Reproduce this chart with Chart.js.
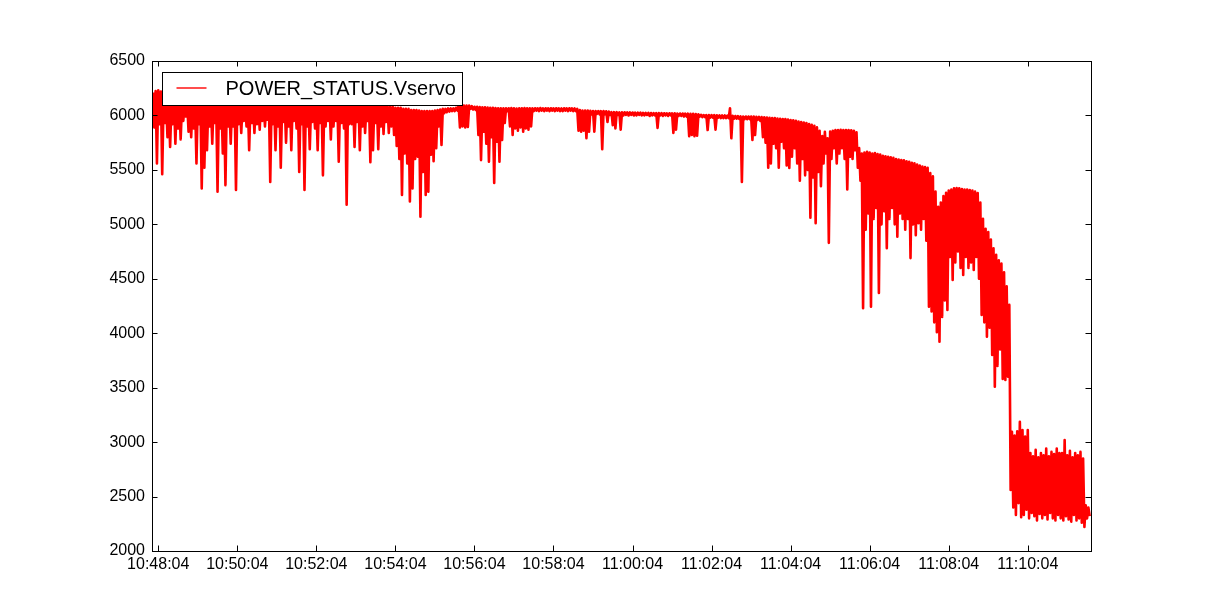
<!DOCTYPE html>
<html>
<head>
<meta charset="utf-8">
<script src="https://cdn.jsdelivr.net/npm/chart.js@4.4.1/dist/chart.umd.min.js"></script>
<style>
  html, body { margin: 0; padding: 0; background: #fff; }
  #wrap { width: 1212px; height: 612px; position: relative; }
</style>
</head>
<body>
<div id="wrap"><canvas id="vservoChart"></canvas></div>
<script>
const seriesLabel = 'POWER_STATUS.Vservo';
const sampleStart = '10:47:56';
const sampleStep = 4; // seconds per bin, each bin has a high and a low reading
const axisRange = ['10:47:54.5', '11:11:40'];
const xTickLabels = ['10:48:04', '10:50:04', '10:52:04', '10:54:04', '10:56:04', '10:58:04',
    '11:00:04', '11:02:04', '11:04:04', '11:06:04', '11:08:04', '11:10:04'];
const yTickValues = [2000, 2500, 3000, 3500, 4000, 4500, 5000, 5500, 6000, 6500];

// upper envelope per bin
const vservoHigh = [
    6210, 6225, 6230, 6220, 6100, 6110, 6100, 6090, 6110, 6100, 6100, 6090, 6110, 6100, 6100,
    6100, 6090, 6100, 6110, 6100, 6090, 6100, 6100, 6110, 6100, 6090, 6100, 6100, 6100, 6090,
    6100, 6110, 6100, 6090, 6100, 6100, 6110, 6100, 6090, 6100, 6100, 6110, 6100, 6090, 6100,
    6100, 6100, 6110, 6100, 6090, 6100, 6100, 6110, 6100, 6090, 6100, 6100, 6110, 6100, 6100,
    6090, 6100, 6100, 6110, 6100, 6090, 6100, 6100, 6110, 6100, 6090, 6100, 6100, 6110, 6100,
    6100, 6090, 6100, 6110, 6100, 6100, 6090, 6100, 6110, 6100, 6100, 6090, 6100, 6090, 6085,
    6080, 6080, 6070, 6070, 6070, 6060, 6060, 6060, 6050, 6050, 6050, 6045, 6040, 6040, 6040,
    6040, 6040, 6045, 6050, 6055, 6060, 6060, 6065, 6065, 6065, 6070, 6090, 6090, 6090, 6090,
    6090, 6085, 6080, 6080, 6078, 6075, 6075, 6072, 6070, 6070, 6068, 6066, 6066, 6066, 6066,
    6066, 6068, 6066, 6064, 6066, 6066, 6068, 6066, 6066, 6066, 6066, 6066, 6068, 6066, 6066,
    6066, 6066, 6066, 6066, 6066, 6064, 6066, 6066, 6066, 6066, 6064, 6060, 6050, 6045, 6045,
    6045, 6042, 6041, 6041, 6040, 6040, 6040, 6038, 6035, 6030, 6030, 6030, 6029, 6029, 6029,
    6029, 6028, 6027, 6026, 6025, 6025, 6024, 6023, 6023, 6022, 6022, 6022, 6021, 6021, 6020,
    6020, 6020, 6020, 6019, 6018, 6018, 6018, 6017, 6016, 6015, 6015, 6012, 6010, 6006, 6004,
    6004, 6004, 6003, 6002, 6002, 6000, 6000, 6000, 5998, 6066, 5996, 5995, 5993, 5992, 5990,
    5990, 5990, 5990, 5990, 5988, 5986, 5985, 5982, 5980, 5978, 5976, 5975, 5972, 5970, 5968,
    5966, 5962, 5958, 5955, 5950, 5945, 5940, 5935, 5930, 5922, 5915, 5905, 5890, 5860, 5810,
    5850, 5790, 5852, 5860, 5866, 5866, 5868, 5866, 5865, 5866, 5864, 5860, 5845, 5700, 5650,
    5660, 5667, 5660, 5650, 5655, 5645, 5640, 5630, 5625, 5620, 5615, 5610, 5600, 5595, 5591,
    5588, 5580, 5575, 5565, 5560, 5550, 5540, 5530, 5525, 5520, 5470, 5440, 5300, 5162, 5200,
    5260, 5290, 5310, 5320, 5330, 5333, 5330, 5325, 5320, 5320, 5315, 5310, 5300, 5288, 5200,
    5050, 4960, 4930, 4860, 4780, 4720, 4670, 4640, 4560, 4430, 4260, 3095, 3060, 3100, 3187,
    3110, 3050, 3111, 2900, 2870, 2930, 2860, 2900, 2880, 2940, 2870, 2910, 2890, 2940, 2900,
    2900, 3020, 2880, 2920, 2860, 2900, 2880, 2910, 2850, 2420, 2400
];

// lower envelope per bin (dips and spikes)
const vservoLow = [
    5890, 5560, 5920, 5460, 5930, 5800, 5710, 5920, 5740, 5880, 5780, 5950, 5990, 5850, 5800,
    5880, 5560, 5920, 5330, 5520, 5680, 5900, 5740, 5930, 5300, 5880, 5650, 5360, 5900, 5740,
    5900, 5315, 5920, 5840, 5950, 5900, 5680, 5930, 5840, 5920, 5870, 5950, 5900, 5960, 5390,
    5920, 5680, 5900, 5520, 5940, 5750, 5900, 5680, 5950, 5880, 5480, 5920, 5315, 5900, 5690,
    5940, 5880, 5680, 5930, 5450, 5900, 5950, 5780, 5900, 5950, 5575, 5930, 5880, 5180, 5920,
    5920, 5710, 5940, 5680, 5900, 5840, 5950, 5570, 5680, 5930, 5690, 5900, 5830, 5940, 5840,
    5900, 5820, 5720, 5600, 5270, 5650, 5560, 5210, 5330, 5600, 5620, 5070, 5480, 5270, 5300,
    5640, 5580, 5700, 5900, 5730, 6020, 6030, 6035, 6040, 6040, 6045, 5890, 5900, 5890, 5895,
    6060, 6055, 6050, 5820, 5590, 5850, 5740, 5575, 5800, 5380, 5760, 5575, 5775, 5930, 6040,
    5900, 5820, 5880, 5860, 5890, 5850, 5880, 5870, 5900, 6040, 6045, 6040, 6045, 6040, 6045,
    6040, 6045, 6040, 6045, 6040, 6040, 6045, 6040, 6045, 6040, 6040, 5860, 5850, 5860, 5790,
    5850, 6010, 5850, 6015, 6010, 5690, 6010, 5940, 6005, 5910, 5880, 6005, 5870, 6000, 6005,
    6000, 6005, 6000, 6000, 6005, 6000, 6000, 6005, 5995, 6000, 6000, 5885, 6000, 5995, 6000,
    5995, 6000, 5840, 5870, 5995, 5995, 5990, 5990, 5810, 5820, 5810, 5815, 5990, 5985, 5985,
    5866, 5980, 5980, 5870, 5980, 5975, 5975, 5975, 5975, 5790, 5970, 5970, 5968, 5390, 5965,
    5965, 5965, 5775, 5820, 5960, 5950, 5800, 5750, 5520, 5560, 5740, 5700, 5520, 5760, 5700,
    5540, 5517, 5620, 5700, 5560, 5400, 5600, 5450, 5500, 5060, 5430, 5010, 5480, 5350, 5560,
    5650, 4830, 5600, 5700, 5560, 5650, 5700, 5600, 5320, 5620, 5600, 5680, 5520, 5400, 4230,
    4950, 5100, 4244, 5050, 5150, 4370, 5000, 5120, 4780, 5050, 5150, 5000, 4886, 5100, 5050,
    4950, 5050, 4690, 5000, 4900, 5010, 4950, 5050, 4850, 4244, 4200, 4100, 4010, 3922, 4150,
    4300, 4213, 4700, 4489, 4650, 4750, 4600, 4535, 4700, 4600, 4650, 4580, 4700, 4500, 4167,
    4100, 3968, 4050, 3800, 3509, 3700, 3850, 3580, 3570, 3600, 2560, 2400, 2330, 2440, 2310,
    2330, 2380, 2300, 2350, 2320, 2280, 2340, 2300, 2330, 2290, 2350, 2300, 2280, 2330, 2300,
    2280, 2320, 2290, 2270, 2330, 2280, 2300, 2260, 2220, 2300, 2320
];

function toSeconds(str) {
    const p = str.split(':');
    return (+p[0]) * 3600 + (+p[1]) * 60 + parseFloat(p[2]);
}
function toClock(sec) {
    const s = Math.round(sec);
    const pad = n => String(n).padStart(2, '0');
    return pad(Math.floor(s / 3600)) + ':' + pad(Math.floor(s / 60) % 60) + ':' + pad(s % 60);
}

// each bin: high reading at the bin start, low reading mid-bin
const t0 = toSeconds(sampleStart);
const points = [];
vservoHigh.forEach((hi, i) => {
    const t = t0 + i * sampleStep;
    points.push({ x: t, y: hi });
    points.push({ x: t + sampleStep / 2, y: vservoLow[i] });
});

const FONT = "'Liberation Sans', Arial, sans-serif";
Chart.defaults.font.family = FONT;
Chart.defaults.color = '#000';

// box with inward ticks on all four sides (matplotlib classic look)
const frameTicks = {
    id: 'frameTicks',
    afterDatasetsDraw(chart) {
        const ctx = chart.ctx;
        const a = chart.chartArea;
        const xs = chart.scales.x, ys = chart.scales.y;
        const len = 5.5;
        ctx.save();
        ctx.strokeStyle = '#000';
        ctx.lineWidth = 1;
        ctx.beginPath();
        xs.ticks.forEach(t => {
            const px = Math.round(xs.getPixelForValue(t.value)) + 0.5;
            ctx.moveTo(px, a.bottom); ctx.lineTo(px, a.bottom - len);
            ctx.moveTo(px, a.top); ctx.lineTo(px, a.top + len);
        });
        ys.ticks.forEach(t => {
            const py = Math.round(ys.getPixelForValue(t.value)) + 0.5;
            ctx.moveTo(a.left, py); ctx.lineTo(a.left + len, py);
            ctx.moveTo(a.right, py); ctx.lineTo(a.right - len, py);
        });
        ctx.stroke();
        ctx.strokeRect(a.left + 0.5, a.top + 0.5, a.right - a.left, a.bottom - a.top);
        ctx.restore();
    }
};

// legend drawn inside the plot, on top of the line
const legendBox = {
    id: 'legendBox',
    afterDatasetsDraw(chart) {
        const ctx = chart.ctx;
        const a = chart.chartArea;
        const ds = chart.data.datasets[0];
        const bx = a.left + 10.5, by = a.top + 11.5;
        ctx.save();
        ctx.fillStyle = '#fff';
        ctx.fillRect(bx, by, 300, 33);
        ctx.strokeStyle = '#000';
        ctx.lineWidth = 1;
        ctx.strokeRect(bx, by, 300, 33);
        ctx.strokeStyle = ds.borderColor;
        ctx.lineWidth = 1.4;
        ctx.beginPath();
        ctx.moveTo(bx + 14, by + 15.5);
        ctx.lineTo(bx + 44, by + 15.5);
        ctx.stroke();
        ctx.fillStyle = '#000';
        ctx.font = '20px ' + FONT;
        ctx.textBaseline = 'alphabetic';
        ctx.fillText(ds.label, bx + 63, by + 22.5);
        ctx.restore();
    }
};

new Chart(document.getElementById('vservoChart'), {
    type: 'line',
    data: {
        datasets: [{
            label: seriesLabel,
            data: points,
            borderColor: '#ff0000',
            borderWidth: 2.6,
            borderJoinStyle: 'round',
            pointRadius: 0,
            tension: 0,
            fill: false
        }]
    },
    options: {
        responsive: true,
        maintainAspectRatio: false,
        animation: false,
        parsing: false,
        layout: { padding: { top: 61, right: 121, left: 0, bottom: 0 } },
        plugins: { legend: { display: false }, tooltip: { enabled: false } },
        scales: {
            x: {
                type: 'linear',
                min: toSeconds(axisRange[0]),
                max: toSeconds(axisRange[1]),
                grid: { display: false, drawTicks: false },
                border: { display: false },
                afterBuildTicks: scale => {
                    scale.ticks = xTickLabels.map(l => ({ value: toSeconds(l) }));
                },
                afterFit: scale => { scale.height = 61; },
                ticks: {
                    autoSkip: false,
                    maxRotation: 0,
                    padding: 4,
                    font: { size: 16 },
                    callback: v => toClock(v)
                }
            },
            y: {
                min: yTickValues[0],
                max: yTickValues[yTickValues.length - 1],
                grid: { display: false, drawTicks: false },
                border: { display: false },
                afterBuildTicks: scale => {
                    scale.ticks = yTickValues.map(v => ({ value: v }));
                },
                afterFit: scale => { scale.width = 152; },
                ticks: {
                    padding: 7,
                    font: { size: 16 },
                    callback: v => String(v)
                }
            }
        }
    },
    plugins: [frameTicks, legendBox]
});
</script>
</body>
</html>
